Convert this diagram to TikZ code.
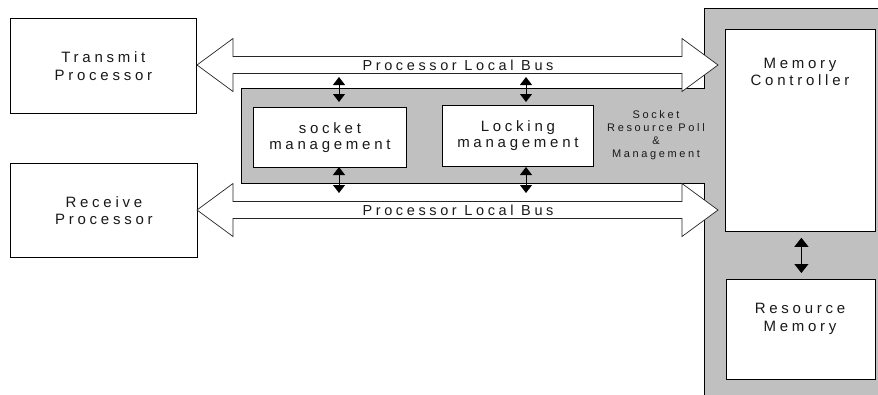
\documentclass[tikz,border=0pt]{standalone}
\usepackage{fontspec}
\setmainfont{Liberation Sans}
\newfontfamily\spacedfont[LetterSpace=25]{Liberation Sans}
\newfontfamily\spacedsmallfont[LetterSpace=24]{Liberation Sans}
\usetikzlibrary{arrows.meta,calc}
\definecolor{panelgray}{RGB}{192,192,192}
\definecolor{ink}{RGB}{25,25,25}
\begin{document}
\begin{tikzpicture}[x=1pt,y=-1pt,
  box/.style={draw=black, line width=0.8pt, fill=white, anchor=north west,
    inner sep=0pt, align=center, text=ink,
    font=\spacedfont\fontsize{15}{17.5}\selectfont},
  txt/.style={inner sep=0pt, align=center, text=ink,
    font=\spacedfont\fontsize{15}{17.5}\selectfont},
  smalltxt/.style={inner sep=0pt, align=center, text=ink,
    font=\spacedsmallfont\fontsize{11}{13}\selectfont},
  bustxt/.style={inner sep=0pt, text=ink,
    font=\spacedfont\fontsize{14.5}{17}\selectfont},
  bus/.style={draw=black!85, line width=0.7pt, fill=white, line join=miter},
  dbl/.style={{Triangle[width=12pt,length=8pt]}-{Triangle[width=12pt,length=8pt]}, line width=1pt},
  dblbig/.style={{Triangle[width=14pt,length=9pt]}-{Triangle[width=14pt,length=9pt]}, line width=1pt}
]
\useasboundingbox (0,0) rectangle (878,394);
\fill[white] (0,0) rectangle (878,394);

% right panel
\fill[panelgray] (704,8) rectangle (882,398);
\draw[line width=0.8pt] (704,398) -- (704,8) -- (882,8);

% socket resource pool box (open on the right)
\fill[panelgray] (241,88) rectangle (706,183);
\draw[line width=0.8pt] (705,88) -- (241,88) -- (241,183) -- (705,183);

% boxes
\node[box, minimum width=186, minimum height=95] (tp) at (10,18) {Transmit\\Processor};
\node[box, minimum width=187, minimum height=94] (rp) at (10,163) {Receive\\Processor};
\node[box, minimum width=153, minimum height=60,
      font=\spacedfont\fontsize{15}{16}\selectfont] (sm) at (253,107) {socket\\management};
\node[box, minimum width=151, minimum height=61,
      font=\spacedfont\fontsize{15}{16}\selectfont] (lm) at (442,105) {Locking\\management};
\node[box, minimum width=150, minimum height=202] (mc) at (725,29) {};
\node[box, minimum width=149, minimum height=100] (rm) at (726,279) {};
\node[txt, anchor=north] (mct) at (800,57.6) {Memory\\Controller};
\node[txt, anchor=north] (rmt) at (800,303) {Resource\\Memory};
\node[smalltxt] (srp) at (656,135) {Socket\\Resource Poll\\\&\\Management};

% buses
\coordinate (b1) at (197,65);
\coordinate (b2) at (197,210);
\foreach \b in {b1,b2}{
  \draw[bus] (\b) -- ++(36,-26.5) -- ++(0,18) -- ++(449,0) -- ++(0,-18)
    -- ++(36,26.5) -- ++(-36,26.5) -- ++(0,-18) -- ++(-449,0) -- ++(0,18) -- cycle;
  \node[bustxt] at ($(\b)+(261,0)$) {Processor Local Bus};
}

% small arrows
\coordinate (a1t) at (339,77);   \coordinate (a1b) at (339,102);
\coordinate (a2t) at (526,77);   \coordinate (a2b) at (526,102);
\coordinate (a3t) at (339,167);  \coordinate (a3b) at (339,193);
\coordinate (a4t) at (526,167);  \coordinate (a4b) at (526,193);
\draw[dbl] (a1t) -- (a1b);
\draw[dbl] (a2t) -- (a2b);
\draw[dbl] (a3t) -- (a3b);
\draw[dbl] (a4t) -- (a4b);

% memory controller <-> resource memory
\draw[dblbig] ($(mc.south)+(1,6)$) -- ($(rm.north)+(0.5,-6)$);
\end{tikzpicture}
\end{document}
